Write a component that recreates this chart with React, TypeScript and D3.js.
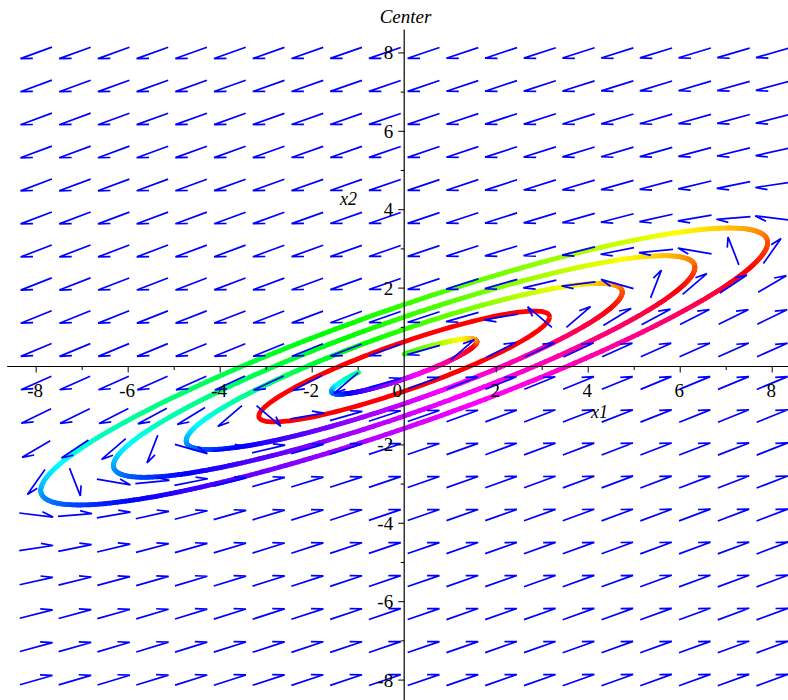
import React from 'react';
import * as d3 from 'd3';

const W = 788;
const H = 700;

// Linear system x' = A x  (center)
const SYS_ROW1 = [2, -5];
const SYS_ROW2 = [1, -2];

// Trajectories: initial point (right-most point of each orbit), phase range in degrees
const TRAJ_X1 = [1.58, 4.74, 6.32, 7.9];
const TRAJ_X2 = [0.632, 1.896, 2.528, 3.16];
const TRAJ_START = [129, 0, 0, 0];
const TRAJ_END = [450, 360, 360, 360];
const HUE_OFFSET = 18;

// Red orbit
const RED_X1 = 3.16;
const RED_X2 = 1.264;

// Axis ticks
const X_TICK_LABELS = [-8, -6, -4, -2, 0, 2, 4, 6, 8];
const Y_TICK_LABELS = [-8, -6, -4, -2, 2, 4, 6, 8];
const MINOR_TICKS = [-7, -5, -3, -1, 1, 3, 5, 7];

const GRID_N = 20;
const GRID_MIN = -8;
const GRID_MAX = 8;

const xScale = d3.scaleLinear().domain([-8.63, 8.63]).range([7.2, 801.2]);
const yScale = d3.scaleLinear().domain([-8.6, 8.6]).range([703.6, 29.4]);

function field(x: number, y: number): [number, number] {
  return [SYS_ROW1[0] * x + SYS_ROW1[1] * y, SYS_ROW2[0] * x + SYS_ROW2[1] * y];
}

function orbit(x0: number, y0: number, tDeg: number): [number, number] {
  const t = (tDeg * Math.PI) / 180;
  const [ax, ay] = field(x0, y0);
  return [Math.cos(t) * x0 + Math.sin(t) * ax, Math.cos(t) * y0 + Math.sin(t) * ay];
}

const line = d3
  .line<[number, number]>()
  .x((d) => xScale(d[0]))
  .y((d) => yScale(d[1]));

function fmt(v: number): string {
  return v < 0 ? '-' + Math.abs(v) : String(v);
}

export default function App() {
  const gridVals = d3.range(GRID_N).map((i) => GRID_MIN + (i * (GRID_MAX - GRID_MIN)) / (GRID_N - 1));
  const L = 0.745;
  const barbLen = 0.27;
  const phi = (-22 * Math.PI) / 180;

  const arrows: string[] = [];
  gridVals.forEach((gx) => {
    gridVals.forEach((gy) => {
      const [vx, vy] = field(gx, gy);
      const n = Math.hypot(vx, vy) || 1;
      const ux = vx / n;
      const uy = vy / n;
      const tail: [number, number] = [gx - (ux * L) / 2, gy - (uy * L) / 2];
      const tip: [number, number] = [gx + (ux * L) / 2, gy + (uy * L) / 2];
      const bx = -ux;
      const by = -uy;
      const rx = bx * Math.cos(phi) - by * Math.sin(phi);
      const ry = bx * Math.sin(phi) + by * Math.cos(phi);
      const barb: [number, number] = [tip[0] + rx * barbLen, tip[1] + ry * barbLen];
      arrows.push(line([tail, tip, barb]) as string);
    });
  });

  const segs: { d: string; c: string }[] = [];
  TRAJ_X1.forEach((x0, i) => {
    const y0 = TRAJ_X2[i];
    for (let t = TRAJ_START[i]; t < TRAJ_END[i]; t += 1) {
      const p1 = orbit(x0, y0, t);
      const p2 = orbit(x0, y0, t + 1);
      const hue = (((t + 0.5 + HUE_OFFSET) % 360) + 360) % 360;
      segs.push({ d: line([p1, p2]) as string, c: d3.hsl(hue, 1, 0.5).formatHex() });
    }
  });

  const redPts = d3.range(0, 361, 2).map((t) => orbit(RED_X1, RED_X2, t));

  const x0px = xScale(0);
  const y0px = yScale(0);
  const font = "'Liberation Serif', 'Times New Roman', serif";

  return (
    <svg
      width={W}
      height={H}
      style={{ position: 'absolute', left: 0, top: 0, background: '#fff' }}
      fontFamily={font}
    >
      <rect x={0} y={0} width={W} height={H} fill="#fff" />
      <g>
        {segs.map((s, i) => (
          <path key={i} d={s.d} stroke={s.c} strokeWidth={4.8} fill="none" strokeLinecap="round" />
        ))}
      </g>
      <path d={line(redPts) as string} stroke="#ff0000" strokeWidth={4.8} fill="none" />
      <g>
        {arrows.map((d, i) => (
          <path key={i} d={d} stroke="#0000ff" strokeWidth={1.7} fill="none" strokeLinejoin="miter" />
        ))}
      </g>
      {/* axes */}
      <line x1={7.2} x2={W} y1={y0px} y2={y0px} stroke="#000" strokeWidth={1.2} />
      <line x1={x0px} x2={x0px} y1={29.4} y2={H} stroke="#000" strokeWidth={1.2} />
      {X_TICK_LABELS.filter((v) => v !== 0).map((v) => (
        <line key={'xt' + v} x1={xScale(v)} x2={xScale(v)} y1={y0px} y2={y0px + 6} stroke="#000" strokeWidth={1} />
      ))}
      {MINOR_TICKS.map((v) => (
        <line key={'xm' + v} x1={xScale(v)} x2={xScale(v)} y1={y0px} y2={y0px + 3.5} stroke="#000" strokeWidth={1} />
      ))}
      {Y_TICK_LABELS.map((v) => (
        <line key={'yt' + v} x1={x0px - 6} x2={x0px} y1={yScale(v)} y2={yScale(v)} stroke="#000" strokeWidth={1} />
      ))}
      {MINOR_TICKS.map((v) => (
        <line key={'ym' + v} x1={x0px - 3.5} x2={x0px} y1={yScale(v)} y2={yScale(v)} stroke="#000" strokeWidth={1} />
      ))}
      {X_TICK_LABELS.map((v) => (
        <text
          key={'xl' + v}
          x={v === 0 ? x0px - 7 : xScale(v) - 1}
          y={y0px + 30}
          fontSize={19}
          textAnchor="middle"
          fill="#000"
        >
          {fmt(v)}
        </text>
      ))}
      {Y_TICK_LABELS.map((v) => (
        <text key={'yl' + v} x={x0px - 11} y={yScale(v) + 6.5} fontSize={19} textAnchor="end" fill="#000">
          {fmt(v)}
        </text>
      ))}
      <text x={591} y={418} fontSize={18} fontStyle="italic" fill="#000">
        x1
      </text>
      <text x={340} y={205} fontSize={18} fontStyle="italic" fill="#000">
        x2
      </text>
      <text x={405.5} y={23} fontSize={19} fontStyle="italic" textAnchor="middle" fill="#000">
        Center
      </text>
    </svg>
  );
}
